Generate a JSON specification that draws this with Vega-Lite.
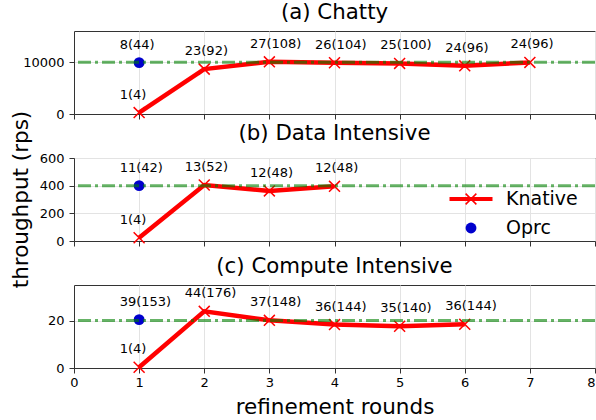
{
  "$schema": "https://vega.github.io/schema/vega-lite/v6.json",
  "padding": {"left": 9, "top": 1, "right": 2, "bottom": 0},
  "datasets": {
    "knative": [
      {"panel": "a", "series": "Knative", "round": 1, "throughput": 270, "label": "1(4)"},
      {"panel": "a", "series": "Knative", "round": 2, "throughput": 8650, "label": "23(92)"},
      {"panel": "a", "series": "Knative", "round": 3, "throughput": 10050, "label": "27(108)"},
      {"panel": "a", "series": "Knative", "round": 4, "throughput": 9870, "label": "26(104)"},
      {"panel": "a", "series": "Knative", "round": 5, "throughput": 9750, "label": "25(100)"},
      {"panel": "a", "series": "Knative", "round": 6, "throughput": 9280, "label": "24(96)"},
      {"panel": "a", "series": "Knative", "round": 7, "throughput": 9950, "label": "24(96)"},
      {"panel": "b", "series": "Knative", "round": 1, "throughput": 24, "label": "1(4)"},
      {"panel": "b", "series": "Knative", "round": 2, "throughput": 405, "label": "13(52)"},
      {"panel": "b", "series": "Knative", "round": 3, "throughput": 362, "label": "12(48)"},
      {"panel": "b", "series": "Knative", "round": 4, "throughput": 395, "label": "12(48)"},
      {"panel": "c", "series": "Knative", "round": 1, "throughput": 0.3, "label": "1(4)"},
      {"panel": "c", "series": "Knative", "round": 2, "throughput": 23.9, "label": "44(176)"},
      {"panel": "c", "series": "Knative", "round": 3, "throughput": 20.1, "label": "37(148)"},
      {"panel": "c", "series": "Knative", "round": 4, "throughput": 18.3, "label": "36(144)"},
      {"panel": "c", "series": "Knative", "round": 5, "throughput": 17.6, "label": "35(140)"},
      {"panel": "c", "series": "Knative", "round": 6, "throughput": 18.4, "label": "36(144)"}
    ],
    "oprc": [
      {"panel": "a", "method": "Oprc", "round": 1, "throughput": 9900, "label": "8(44)"},
      {"panel": "b", "method": "Oprc", "round": 1, "throughput": 400, "label": "11(42)"},
      {"panel": "c", "method": "Oprc", "round": 1, "throughput": 20.4, "label": "39(153)"}
    ],
    "baseline": [
      {"panel": "a", "throughput": 10000},
      {"panel": "b", "throughput": 400},
      {"panel": "c", "throughput": 20}
    ]
  },
  "spacing": 44,
  "bounds": "flush",
  "resolve": {"scale": {"y": "independent", "fill": "independent", "color": "independent"}, "legend": {"fill": "independent", "color": "independent"}},
  "vconcat": [
    {
      "width": 521, "height": 83,
      "title": "(a) Chatty",
      "layer": [
        {"data": {"name": "knative"}, "transform": [{"filter": "datum.panel === 'a'"}],
         "mark": {"type": "line", "color": "#ff0000", "strokeWidth": 4.5},
         "encoding": {
           "x": {"field": "round", "type": "quantitative", "scale": {"domain": [0, 8], "nice": false}, "axis": {"values": [0,1,2,3,4,5,6,7,8], "labels": false, "title": null}},
           "y": {"field": "throughput", "type": "quantitative", "scale": {"domain": [0, 16000], "nice": false}, "axis": {"values": [0, 10000], "format": "d", "title": "throughput (rps)", "titleX": -47, "titleY": 168, "titleAngle": -90, "titleBaseline": "alphabetic", "titleAlign": "center"}}}},
        {"data": {"name": "knative"}, "transform": [{"filter": "datum.panel === 'a'"}],
         "mark": {"type": "point", "shape": "M-1,-1L1,1M-1,1L1,-1", "filled": false, "color": "#ff0000", "size": 120, "strokeWidth": 1.5, "opacity": 1},
         "encoding": {
           "x": {"field": "round", "type": "quantitative", "axis": {"values": [0,1,2,3,4,5,6,7,8], "labels": false, "title": null}},
           "y": {"field": "throughput", "type": "quantitative", "axis": {"values": [0, 10000], "format": "d", "title": "throughput (rps)", "titleX": -47, "titleY": 168, "titleAngle": -90, "titleBaseline": "alphabetic", "titleAlign": "center"}}}},
        {"data": {"name": "oprc"}, "transform": [{"filter": "datum.panel === 'a'"}],
         "mark": {"type": "point", "shape": "circle", "filled": true, "color": "#0000cd", "size": 118, "opacity": 1},
         "encoding": {
           "x": {"field": "round", "type": "quantitative", "axis": {"values": [0,1,2,3,4,5,6,7,8], "labels": false, "title": null}},
           "y": {"field": "throughput", "type": "quantitative", "axis": {"values": [0, 10000], "format": "d", "title": "throughput (rps)", "titleX": -47, "titleY": 168, "titleAngle": -90, "titleBaseline": "alphabetic", "titleAlign": "center"}}}},
        {"data": {"name": "baseline"}, "transform": [{"filter": "datum.panel === 'a'"}],
         "mark": {"type": "rule", "color": "#008000", "opacity": 0.6, "strokeWidth": 3, "strokeDash": [13, 4, 3, 4]},
         "encoding": {
           "y": {"field": "throughput", "type": "quantitative", "axis": {"values": [0, 10000], "format": "d", "title": "throughput (rps)", "titleX": -47, "titleY": 168, "titleAngle": -90, "titleBaseline": "alphabetic", "titleAlign": "center"}}}},
        {"data": {"name": "knative"}, "transform": [{"filter": "datum.panel === 'a'"}],
         "mark": {"type": "text", "align": "left", "baseline": "middle", "dx": -19.5, "dy": -18, "fontSize": 13, "color": "#000"},
         "encoding": {
           "x": {"field": "round", "type": "quantitative", "axis": {"values": [0,1,2,3,4,5,6,7,8], "labels": false, "title": null}},
           "y": {"field": "throughput", "type": "quantitative", "axis": {"values": [0, 10000], "format": "d", "title": "throughput (rps)", "titleX": -47, "titleY": 168, "titleAngle": -90, "titleBaseline": "alphabetic", "titleAlign": "center"}},
           "text": {"field": "label"}}},
        {"data": {"name": "oprc"}, "transform": [{"filter": "datum.panel === 'a'"}],
         "mark": {"type": "text", "align": "left", "baseline": "middle", "dx": -19.5, "dy": -18, "fontSize": 13, "color": "#000"},
         "encoding": {
           "x": {"field": "round", "type": "quantitative", "axis": {"values": [0,1,2,3,4,5,6,7,8], "labels": false, "title": null}},
           "y": {"field": "throughput", "type": "quantitative", "axis": {"values": [0, 10000], "format": "d", "title": "throughput (rps)", "titleX": -47, "titleY": 168, "titleAngle": -90, "titleBaseline": "alphabetic", "titleAlign": "center"}},
           "text": {"field": "label"}}}
      ]
    },
    {
      "width": 521, "height": 83,
      "title": "(b) Data Intensive",
      "layer": [
        {"data": {"name": "knative"}, "transform": [{"filter": "datum.panel === 'b'"}],
         "mark": {"type": "line", "strokeWidth": 4.5},
         "encoding": {
           "x": {"field": "round", "type": "quantitative", "scale": {"domain": [0, 8], "nice": false}, "axis": {"values": [0,1,2,3,4,5,6,7,8], "labels": false, "title": null}},
           "y": {"field": "throughput", "type": "quantitative", "scale": {"domain": [0, 600], "nice": false}, "axis": {"values": [0, 200, 400, 600], "title": null}},
           "color": {"field": "series", "type": "nominal", "scale": {"domain": ["Knative"], "range": ["#ff0000"]},
             "legend": {"title": null, "orient": "none", "legendX": 374.5, "legendY": 18.5, "symbolType": "M-1,-0.06H1M-1,0H1M-1,0.06H1M-0.25,-0.25L0.25,0.25M-0.25,0.25L0.25,-0.25", "symbolSize": 1849, "symbolStrokeWidth": 1.5, "symbolStrokeColor": "#ff0000", "labelOffset": 12.5,
               "encode": {"symbols": {"update": {"strokeWidth": {"value": 1.5}, "stroke": {"value": "#ff0000"}, "fill": {"value": "transparent"}, "strokeDash": {"value": []}}}}}}}},
        {"data": {"name": "knative"}, "transform": [{"filter": "datum.panel === 'b'"}],
         "mark": {"type": "point", "shape": "M-1,-1L1,1M-1,1L1,-1", "filled": false, "color": "#ff0000", "size": 120, "strokeWidth": 1.5, "opacity": 1},
         "encoding": {
           "x": {"field": "round", "type": "quantitative", "axis": {"values": [0,1,2,3,4,5,6,7,8], "labels": false, "title": null}},
           "y": {"field": "throughput", "type": "quantitative", "axis": {"values": [0, 200, 400, 600], "title": null}}}},
        {"data": {"name": "oprc"}, "transform": [{"filter": "datum.panel === 'b'"}],
         "mark": {"type": "point", "shape": "circle", "filled": true, "size": 118, "opacity": 1},
         "encoding": {
           "x": {"field": "round", "type": "quantitative", "axis": {"values": [0,1,2,3,4,5,6,7,8], "labels": false, "title": null}},
           "y": {"field": "throughput", "type": "quantitative", "axis": {"values": [0, 200, 400, 600], "title": null}},
           "fill": {"field": "method", "type": "nominal", "scale": {"domain": ["Oprc"], "range": ["#0000cd"]},
             "legend": {"title": null, "orient": "none", "legendX": 387.5, "legendY": 60.5, "symbolType": "circle", "symbolSize": 118, "labelOffset": 25.5}}}},
        {"data": {"name": "baseline"}, "transform": [{"filter": "datum.panel === 'b'"}],
         "mark": {"type": "rule", "color": "#008000", "opacity": 0.6, "strokeWidth": 3, "strokeDash": [13, 4, 3, 4]},
         "encoding": {
           "y": {"field": "throughput", "type": "quantitative", "axis": {"values": [0, 200, 400, 600], "title": null}}}},
        {"data": {"name": "knative"}, "transform": [{"filter": "datum.panel === 'b'"}],
         "mark": {"type": "text", "align": "left", "baseline": "middle", "dx": -19.5, "dy": -18, "fontSize": 13, "color": "#000"},
         "encoding": {
           "x": {"field": "round", "type": "quantitative", "axis": {"values": [0,1,2,3,4,5,6,7,8], "labels": false, "title": null}},
           "y": {"field": "throughput", "type": "quantitative", "axis": {"values": [0, 200, 400, 600], "title": null}},
           "text": {"field": "label"}}},
        {"data": {"name": "oprc"}, "transform": [{"filter": "datum.panel === 'b'"}],
         "mark": {"type": "text", "align": "left", "baseline": "middle", "dx": -19.5, "dy": -18, "fontSize": 13, "color": "#000"},
         "encoding": {
           "x": {"field": "round", "type": "quantitative", "axis": {"values": [0,1,2,3,4,5,6,7,8], "labels": false, "title": null}},
           "y": {"field": "throughput", "type": "quantitative", "axis": {"values": [0, 200, 400, 600], "title": null}},
           "text": {"field": "label"}}}
      ]
    },
    {
      "width": 521, "height": 83,
      "title": "(c) Compute Intensive",
      "layer": [
        {"data": {"name": "knative"}, "transform": [{"filter": "datum.panel === 'c'"}],
         "mark": {"type": "line", "color": "#ff0000", "strokeWidth": 4.5},
         "encoding": {
           "x": {"field": "round", "type": "quantitative", "scale": {"domain": [0, 8], "nice": false}, "axis": {"values": [0,1,2,3,4,5,6,7,8], "labelAlign": {"condition": {"test": "datum.value === 8", "value": "right"}, "value": "center"}, "title": "refinement rounds", "titleY": 45, "titleBaseline": "alphabetic"}},
           "y": {"field": "throughput", "type": "quantitative", "scale": {"domain": [0, 35], "nice": false}, "axis": {"values": [0, 20], "title": null}}}},
        {"data": {"name": "knative"}, "transform": [{"filter": "datum.panel === 'c'"}],
         "mark": {"type": "point", "shape": "M-1,-1L1,1M-1,1L1,-1", "filled": false, "color": "#ff0000", "size": 120, "strokeWidth": 1.5, "opacity": 1},
         "encoding": {
           "x": {"field": "round", "type": "quantitative", "axis": {"values": [0,1,2,3,4,5,6,7,8], "labelAlign": {"condition": {"test": "datum.value === 8", "value": "right"}, "value": "center"}, "title": "refinement rounds", "titleY": 45, "titleBaseline": "alphabetic"}},
           "y": {"field": "throughput", "type": "quantitative", "axis": {"values": [0, 20], "title": null}}}},
        {"data": {"name": "oprc"}, "transform": [{"filter": "datum.panel === 'c'"}],
         "mark": {"type": "point", "shape": "circle", "filled": true, "color": "#0000cd", "size": 118, "opacity": 1},
         "encoding": {
           "x": {"field": "round", "type": "quantitative", "axis": {"values": [0,1,2,3,4,5,6,7,8], "labelAlign": {"condition": {"test": "datum.value === 8", "value": "right"}, "value": "center"}, "title": "refinement rounds", "titleY": 45, "titleBaseline": "alphabetic"}},
           "y": {"field": "throughput", "type": "quantitative", "axis": {"values": [0, 20], "title": null}}}},
        {"data": {"name": "baseline"}, "transform": [{"filter": "datum.panel === 'c'"}],
         "mark": {"type": "rule", "color": "#008000", "opacity": 0.6, "strokeWidth": 3, "strokeDash": [13, 4, 3, 4]},
         "encoding": {
           "y": {"field": "throughput", "type": "quantitative", "axis": {"values": [0, 20], "title": null}}}},
        {"data": {"name": "knative"}, "transform": [{"filter": "datum.panel === 'c'"}],
         "mark": {"type": "text", "align": "left", "baseline": "middle", "dx": -19.5, "dy": -18, "fontSize": 13, "color": "#000"},
         "encoding": {
           "x": {"field": "round", "type": "quantitative", "axis": {"values": [0,1,2,3,4,5,6,7,8], "labelAlign": {"condition": {"test": "datum.value === 8", "value": "right"}, "value": "center"}, "title": "refinement rounds", "titleY": 45, "titleBaseline": "alphabetic"}},
           "y": {"field": "throughput", "type": "quantitative", "axis": {"values": [0, 20], "title": null}},
           "text": {"field": "label"}}},
        {"data": {"name": "oprc"}, "transform": [{"filter": "datum.panel === 'c'"}],
         "mark": {"type": "text", "align": "left", "baseline": "middle", "dx": -19.5, "dy": -18, "fontSize": 13, "color": "#000"},
         "encoding": {
           "x": {"field": "round", "type": "quantitative", "axis": {"values": [0,1,2,3,4,5,6,7,8], "labelAlign": {"condition": {"test": "datum.value === 8", "value": "right"}, "value": "center"}, "title": "refinement rounds", "titleY": 45, "titleBaseline": "alphabetic"}},
           "y": {"field": "throughput", "type": "quantitative", "axis": {"values": [0, 20], "title": null}},
           "text": {"field": "label"}}}
      ]
    }
  ],
  "config": {
    "font": "DejaVu Sans",
    "view": {"stroke": "#333333", "strokeWidth": 1},
    "axis": {"domainColor": "#333333", "tickColor": "#333333", "tickSize": 5, "labelFontSize": 13, "labelColor": "#000000", "gridColor": "#e3e3e3", "titleFontSize": 21.5, "titleFontWeight": "normal", "titleColor": "#000000", "labelPadding": 3},
    "axisY": {"labelPadding": 5},
    "title": {"fontSize": 21.3, "fontWeight": "normal", "color": "#000000", "offset": 8, "baseline": "alphabetic"},
    "legend": {"labelFontSize": 19, "labelColor": "#000000", "padding": 0}
  }
}
